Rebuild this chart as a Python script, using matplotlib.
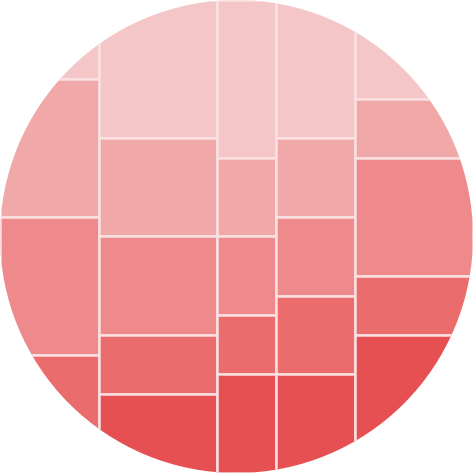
import matplotlib
matplotlib.use("Agg")
import matplotlib.pyplot as plt
from matplotlib.patches import Circle

# Column widths (mosaic columns, left to right)
col_widths = [5, 6, 3, 4, 6]
# Segment sizes within each column, top to bottom, and their shade levels
col_segments = [
    [4, 7, 7, 6],
    [7, 5, 5, 3, 4],
    [8, 4, 4, 3, 5],
    [7, 4, 4, 4, 5],
    [5, 3, 6, 3, 7],
]
col_levels = [
    [0, 1, 2, 3],
    [0, 1, 2, 3, 4],
    [0, 1, 2, 3, 4],
    [0, 1, 2, 3, 4],
    [0, 1, 2, 3, 4],
]
palette = ["#F5C6C7", "#F1A8A9", "#EE8A8B", "#EA6C6D", "#E65052"]

fig = plt.figure(figsize=(4.73, 4.73), dpi=100)
ax = fig.add_axes([0, 0, 1, 1])
total_w = sum(col_widths)
ax.set_xlim(0, total_w)
ax.set_ylim(total_w, 0)
ax.axis("off")

clip = Circle((total_w / 2, total_w / 2), total_w / 2, transform=ax.transData)

left = 0
for w, segs, levels in zip(col_widths, col_segments, col_levels):
    tot = sum(segs)
    top = 0
    for s, lv in zip(segs, levels):
        h = s / tot * total_w
        bars = ax.bar(left, h, width=w, bottom=top, align="edge",
                      color=palette[lv], edgecolor="#FBE0E1", linewidth=1.8)
        for b in bars:
            b.set_clip_path(clip)
        top += h
    left += w

fig.savefig("out.png", dpi=100)
